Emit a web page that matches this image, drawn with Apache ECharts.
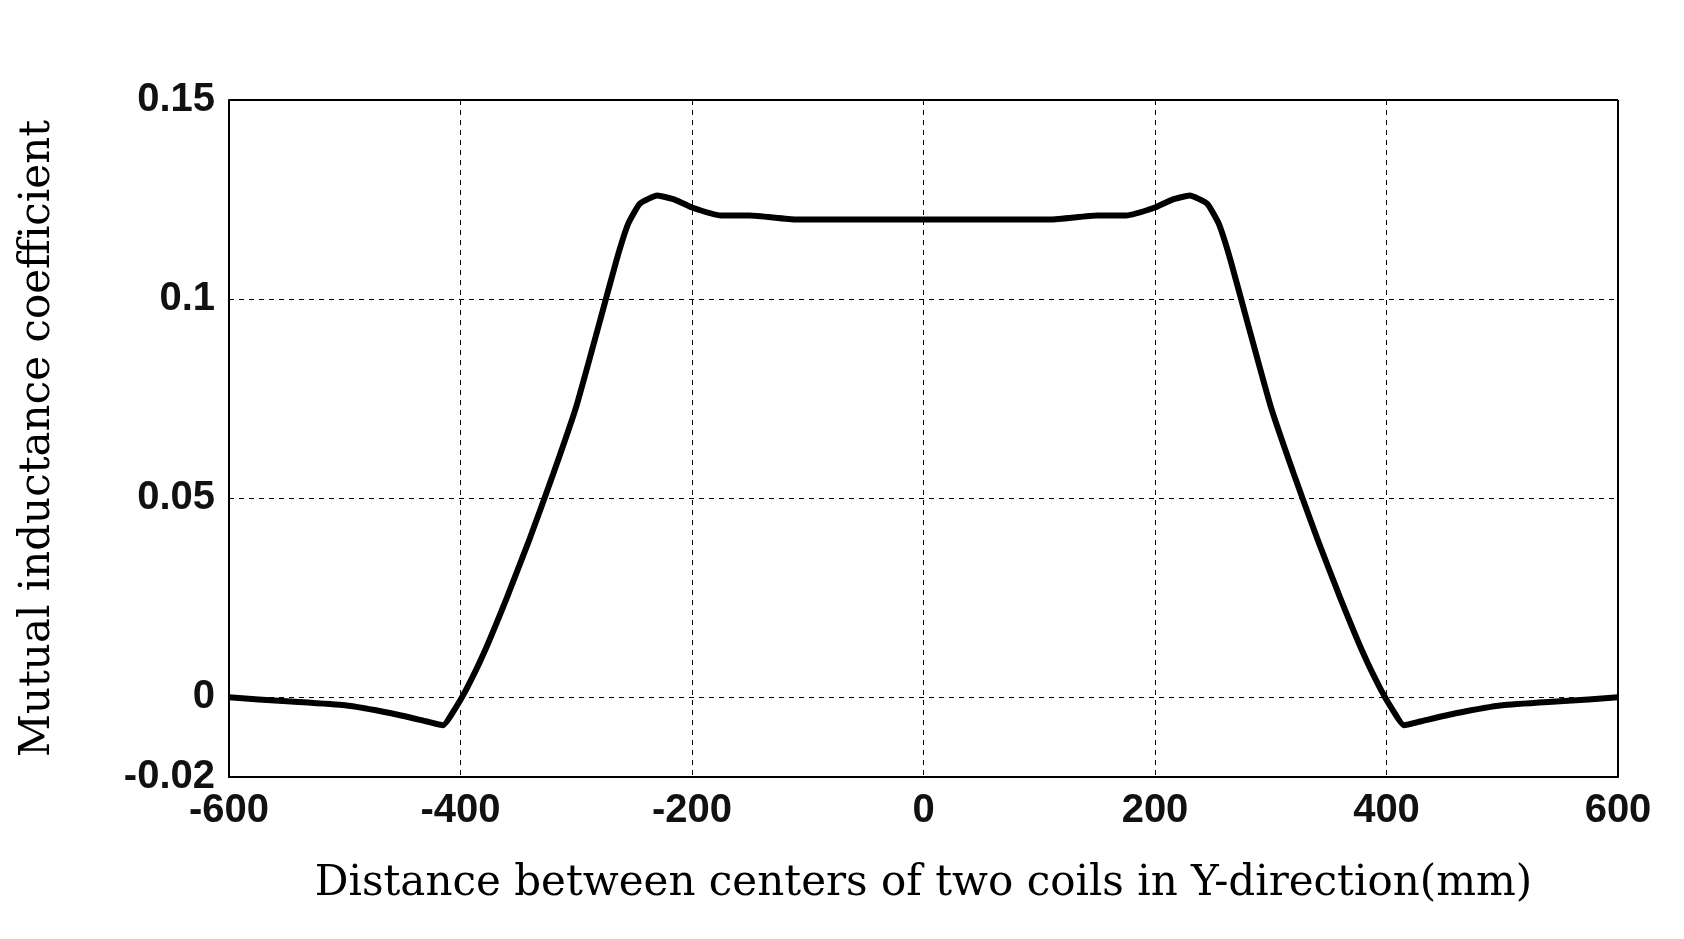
<!DOCTYPE html><html><head><meta charset="utf-8"><script src="https://cdn.jsdelivr.net/npm/echarts@6/dist/echarts.min.js"></script>
<style>html,body{margin:0;background:#fff}#c{width:1684px;height:939px}</style></head><body><div id="c"></div><script>
const xs=[-600,-550,-500,-460,-430,-415,-405,-395,-380,-360,-340,-320,-300,-280,-265,-255,-245,-230,-215,-200,-175,-150,-110,-50,0,50,110,150,175,200,215,230,245,255,265,280,300,320,340,360,380,395,405,415,430,460,500,550,600];
const ys=[0,-0.001,-0.002,-0.004,-0.006,-0.007,-0.003,0.002,0.011,0.025,0.040,0.056,0.073,0.094,0.110,0.119,0.124,0.126,0.125,0.123,0.121,0.121,0.120,0.120,0.120,0.120,0.120,0.121,0.121,0.123,0.125,0.126,0.124,0.119,0.110,0.094,0.073,0.056,0.040,0.025,0.011,0.002,-0.003,-0.007,-0.006,-0.004,-0.002,-0.001,0];
const yTicks={'-0.02':'-0.02','0':'0','0.05':'0.05','0.1':'0.1','0.15':'0.15'};
const f='Liberation Sans';
const dash={color:'#000',type:[5,5],width:1};
echarts.init(document.getElementById('c')).setOption({animation:false,
grid:{left:229,right:66,top:100,bottom:162},
xAxis:{type:'value',min:-600,max:600,interval:200,axisLine:{onZero:false,lineStyle:{color:'#000',width:2}},axisTick:{show:false},
axisLabel:{color:'#111',fontFamily:f,fontWeight:'bold',fontSize:40,margin:14},
splitLine:{lineStyle:dash},
name:'Distance between centers of two coils in Y-direction(mm)',nameLocation:'middle',nameGap:86,nameTextStyle:{fontFamily:'DejaVu Serif',fontSize:42,color:'#000'}},
yAxis:{type:'value',min:-0.02,max:0.15,axisLine:{onZero:false,lineStyle:{color:'#000',width:2}},axisTick:{show:false},
axisLabel:{color:'#111',fontFamily:f,fontWeight:'bold',fontSize:40,margin:14,customValues:[-0.02,0,0.05,0.1,0.15],formatter:v=>yTicks[String(+(+v).toFixed(2))]??''},
splitLine:{show:false},
name:'Mutual inductance coefficient',nameLocation:'middle',nameGap:170,nameTextStyle:{fontFamily:'DejaVu Serif',fontSize:42,color:'#000'}},
series:[{type:'line',data:xs.map((x,i)=>[x,ys[i]]),smooth:0.15,showSymbol:false,lineStyle:{color:'#000',width:6},z:3},
{type:'line',data:[],markLine:{silent:true,symbol:'none',label:{show:false},lineStyle:dash,data:[{yAxis:0},{yAxis:0.05},{yAxis:0.1}]}},
{type:'line',data:[],markLine:{silent:true,symbol:'none',label:{show:false},lineStyle:{color:'#000',type:'solid',width:2},data:[{xAxis:600},{yAxis:0.15}]}}]
});
</script></body></html>
